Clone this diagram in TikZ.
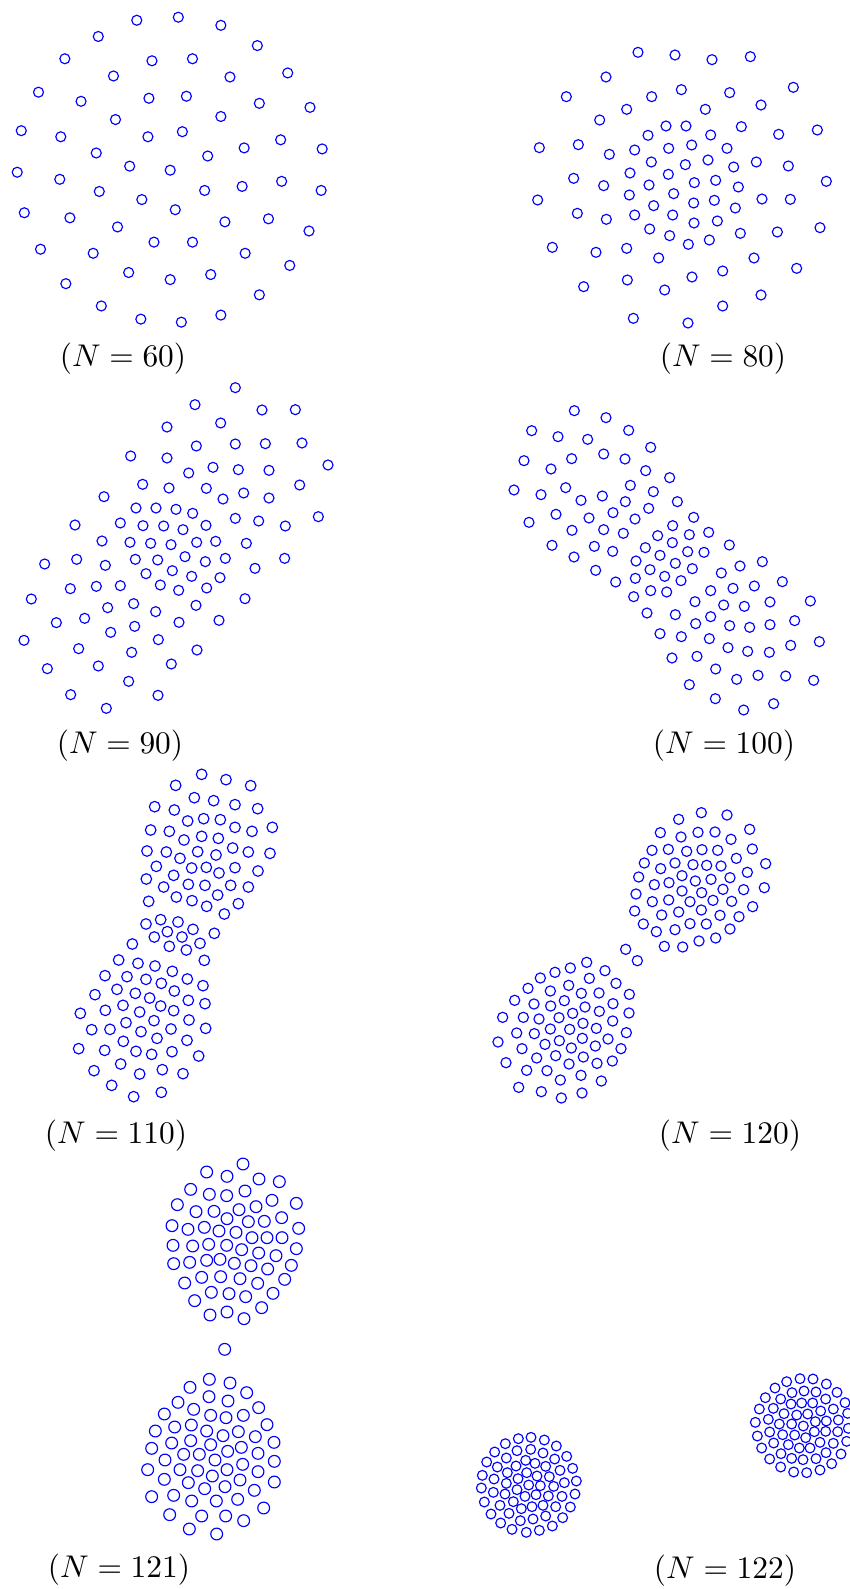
\documentclass[tikz,border=0pt]{standalone}
\tikzset{
  mk/.style={draw=blue, line width=1.15pt},
  lbl/.style={scale=3.14, inner sep=0pt}
}
\newcommand\plotpts[5]{%
  \foreach \px/\py in {#5} {\draw[mk] ({#1+\px*#3},{#2+\py*#3}) circle[radius=#4];}}
\begin{document}
\begin{tikzpicture}[x=1pt,y=-1pt]
\useasboundingbox (0,0) rectangle (849,1589);
% N = 60
\plotpts{0}{0}{1.0131}{5pt}{135/20,176/17,218/25,97/36,254/45,64/58,150/60,190/58,284/72,112/75,227/76,38/91,80/100,147/97,184/95,256/102,306/106,114/118,218/115,21/129,60/135,146/135,180/130,277/138,95/151,241/146,318/147,205/154,128/164,168/168,17/170,59/177,278/179,239/184,98/189,202/188,317/188,140/197,173/207,24/210,69/215,265/216,222/219,116/224,305/228,152/239,190/239,40/246,92/250,242/250,286/262,127/269,208/271,168/276,65/280,256/291,100/302,139/315,179/318,218/311}
% N = 80
\plotpts{525}{40}{0.33333}{5pt}{339/37,450/45,561/59,676/50,243/111,124/170,380/170,469/149,614/158,805/142,305/208,541/208,708/195,224/240,423/258,483/258,369/286,557/285,649/260,761/283,877/270,43/323,160/314,253/343,329/330,431/325,500/315,606/325,379/366,481/374,549/360,626/381,694/366,790/378,146/415,236/437,315/399,430/403,508/428,572/421,372/435,640/441,904/424,38/480,313/465,446/461,506/489,568/481,711/477,796/478,157/520,244/538,329/525,386/497,443/525,631/504,374/567,507/549,577/543,885/563,434/587,490/613,553/600,646/580,757/576,82/622,213/637,305/625,401/654,687/654,815/685,593/693,501/711,176/740,307/720,419/750,708/765,593/798,325/835,489/849}
% N = 90
\plotpts{10}{370}{0.33333}{5pt}{676/53,555/104,756/120,856/119,471/171,632/159,559/228,676/222,766/221,876/219,362/258,471/264,954/285,536/309,609/292,685/299,777/301,398/343,477/354,589/355,869/345,282/380,639/387,701/369,777/384,378/414,438/414,498/418,548/430,676/445,746/453,826/468,925/440,195/465,331/459,399/467,461/468,519/479,588/466,276/513,360/517,422/520,483/524,560/517,617/514,709/520,104/582,200/568,286/586,376/568,443/570,525/560,586/575,646/565,824/565,735/595,408/611,487/602,545/619,630/623,181/656,259/649,331/647,451/645,506/661,590/654,64/687,293/713,371/701,437/725,558/706,705/686,139/758,224/745,374/769,302/787,507/757,627/751,42/811,206/836,365/847,445/809,561/840,112/896,265/888,484/882,356/934,182/974,444/976,289/1015}
% N = 100
\plotpts{500}{395}{0.33333}{5pt}{223/47,318/68,95/107,174/125,263/133,386/106,452/157,72/197,153/222,215/191,311/177,375/192,437/227,509/248,42/285,123/299,197/278,243/316,307/303,376/320,391/271,460/290,446/340,532/320,87/382,168/358,267/369,339/353,405/372,581/367,518/392,626/412,568/419,473/422,156/451,216/406,311/404,370/415,283/454,338/469,436/458,517/443,480/481,563/470,612/472,688/450,222/486,408/498,526/505,577/521,720/513,787/500,287/526,450/524,494/544,543/557,664/534,347/561,406/550,452/587,500/591,632/587,699/580,763/573,847/560,401/605,585/620,671/630,733/634,810/621,931/618,441/654,526/659,632/665,587/686,689/692,749/697,810/689,884/677,480/716,544/725,628/731,684/758,743/769,808/772,872/751,958/740,516/789,591/784,647/822,710/853,774/841,857/843,941/856,568/869,646/911,731/945,821/926}
% N = 110
\plotpts{65}{760}{0.33333}{5.3pt}{410/43,483/59,557/77,332/76,388/113,446/122,510/134,578/146,269/140,328/150,368/183,416/176,466/179,510/202,561/214,622/202,257/210,313/214,357/240,410/229,460/235,503/264,550/276,615/280,246/273,304/276,345/295,398/275,453/285,274/319,380/324,424/322,462/339,510/323,579/333,244/357,326/346,296/381,370/373,420/376,497/376,550/381,251/424,334/411,381/422,425/439,458/405,520/431,478/462,243/492,287/479,339/486,268/531,307/515,351/531,384/508,448/520,202/552,313/559,364/570,405/550,418/601,161/600,219/610,270/618,322/634,120/647,186/650,243/658,289/670,367/657,414/677,156/688,211/700,254/714,328/693,90/704,174/736,287/738,326/752,370/721,420/731,46/760,121/751,224/756,267/782,183/788,372/780,80/809,135/808,228/815,318/807,422/805,175/844,276/835,366/841,41/866,119/871,213/874,260/883,321/875,401/888,167/912,87/932,224/942,292/929,354/941,140/976,206/1010,289/997}
% N = 120
\plotpts{485}{795}{0.33333}{5.1pt}{649/53,726/60,581/73,526/113,588/126,639/112,690/111,738/133,794/103,501/166,550/163,605/169,651/164,698/166,754/190,802/162,478/204,527/221,570/204,624/209,665/211,708/213,787/232,842/206,461/246,508/269,552/263,591/242,631/258,678/253,735/248,776/284,838/278,453/297,502/320,551/315,591/288,615/320,650/293,684/316,714/283,740/319,803/335,449/348,530/360,581/351,649/345,705/361,762/365,475/387,514/410,570/404,615/386,664/387,735/402,538/454,593/456,642/438,692/429,422/463,457/497,305/502,360/527,256/519,210/532,166/549,313/550,393/565,129/580,196/588,251/571,289/595,342/594,433/598,89/616,147/627,197/633,238/617,300/636,384/626,53/667,115/667,162/672,222/668,263/655,343/649,432/654,95/714,148/716,196/702,254/703,294/685,334/700,383/678,424/713,39/741,180/748,223/737,259/759,292/730,331/753,369/732,111/761,408/761,63/803,155/789,212/782,252/807,295/786,336/805,382/798,125/826,186/827,226/855,288/841,349/858,101/877,169/890,229/909,291/894}
% N = 121
\plotpts{140}{1140}{0.33333}{5.9pt}{309/72,200/96,261/109,357/117,418/125,152/148,208/163,260/167,315/153,396/181,469/190,112/194,168/215,222/214,261/236,297/209,348/200,425/233,96/257,144/268,193/262,237/273,288/277,325/245,373/244,476/265,99/316,158/318,206/313,260/316,305/329,336/293,381/293,426/293,469/326,101/371,149/367,200/361,240/358,283/370,333/377,356/339,408/347,454/376,134/429,185/412,242/410,300/416,353/430,383/387,434/418,164/482,214/457,267/461,317/470,399/460,210/525,261/516,312/536,365/503,254/628,208/718,270/729,150/742,320/758,114/787,207/770,264/783,356/803,73/822,161/808,212/826,258/833,310/826,381/854,46/873,104/861,154/855,200/873,249/887,295/875,346/890,402/907,35/925,95/909,152/902,212/914,263/934,304/922,354/940,403/964,75/960,131/943,178/943,225/960,261/989,308/973,354/995,403/1026,23/989,120/989,173/992,217/1008,300/1020,73/1018,145/1028,194/1046,255/1040,343/1051,35/1070,101/1066,155/1083,229/1083,293/1078,371/1104,89/1124,185/1128,257/1128,311/1142,148/1167,230/1182}
% N = 122
\plotpts{460}{1360}{0.33333}{4.9pt}{175/236,213/232,253/240,289/258,136/251,104/276,171/272,212/268,249/279,284/297,320/289,80/306,139/294,112/321,168/318,197/301,225/310,257/319,300/331,338/325,67/346,102/357,142/338,174/356,200/338,231/348,268/350,313/368,349/363,64/384,100/397,139/370,171/389,206/375,241/377,281/379,73/426,135/402,160/425,195/409,228/404,265/408,306/409,345/402,120/436,184/446,216/440,249/436,287/440,331/441,93/462,147/460,219/477,257/468,308/473,122/489,181/482,156/508,199/517,238/511,277/498,980/65,1020/56,1059/57,1099/72,945/84,996/98,1032/93,1068/96,1131/97,916/113,962/117,993/132,1025/129,1058/129,1097/117,1155/128,898/147,940/145,972/161,1010/165,1043/162,1082/153,1120/147,886/187,925/178,958/192,995/192,1030/198,1066/185,1099/183,1135/180,1163/160,892/228,929/216,968/224,1004/225,1037/233,1063/215,1097/214,1133/215,1165/205,905/264,941/249,985/254,1018/264,1050/264,1080/247,1120/250,1160/244,929/297,963/281,995/295,1029/299,1068/296,1098/278,1143/282,962/321,1001/336,1040/338,1080/330,1115/311}
% labels
\node[lbl] (l60) at (123,359) {$(N=60)$};
\node[lbl] (l80) at (723,359) {$(N=80)$};
\node[lbl] (l90) at (120,746) {$(N=90)$};
\node[lbl] (l100) at (724,746) {$(N=100)$};
\node[lbl] (l110) at (116,1136) {$(N=110)$};
\node[lbl] (l120) at (730,1136) {$(N=120)$};
\node[lbl] (l121) at (119,1570) {$(N=121)$};
\node[lbl] (l122) at (725,1571) {$(N=122)$};
\end{tikzpicture}
\end{document}
